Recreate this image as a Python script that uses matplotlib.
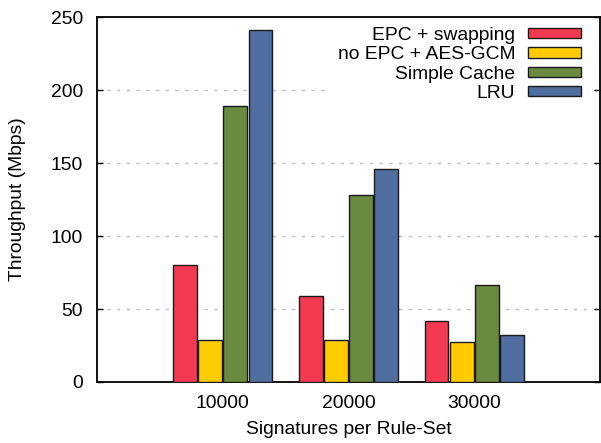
import matplotlib
matplotlib.use("Agg")
import matplotlib.pyplot as plt
import numpy as np
from matplotlib.patches import Patch

plt.rcParams['font.family'] = ['Liberation Sans', 'DejaVu Sans']

categories = ["10000", "20000", "30000"]
series_names = ["EPC + swapping", "no EPC + AES-GCM", "Simple Cache", "LRU"]
epc_swapping = [80, 59, 42]
no_epc_aes = [29, 28.5, 27.5]
simple_cache = [189, 128, 66.5]
lru = [241, 146, 32]
series_values = [epc_swapping, no_epc_aes, simple_cache, lru]
colors = ["#F33A50", "#FFCC00", "#6A8A40", "#506EA0"]
yticks = [0, 50, 100, 150, 200, 250]

FS = 13.9

fig = plt.figure(figsize=(6.01, 4.43), dpi=100)
ax = fig.add_axes([97/601, 61/443, 503/601, 365/443])

x = np.arange(len(categories))
slot = 0.2
width = 0.19
for i, (vals, col) in enumerate(zip(series_values, colors)):
    ax.bar(x + (i - 1.5) * slot, vals, width=width, color=col,
           edgecolor="#1a1a1a", linewidth=1.0, zorder=3)

ax.set_xlim(-1, 3)
ax.set_ylim(0, 250)
ax.set_xticks(x)
ax.set_xticklabels(categories, fontsize=FS)
ax.set_yticks(yticks)
ax.set_yticklabels([str(v) for v in yticks], fontsize=FS)
ax.tick_params(axis='x', length=0, pad=9)
ax.tick_params(axis='y', direction='in', length=4, width=1, right=True, pad=10)
for s in ax.spines.values():
    s.set_linewidth(1.3)

for v in yticks[1:-1]:
    ax.axhline(v, color="#bdbdbd", linewidth=1.0, linestyle=(0, (2.5, 4.5)), zorder=1)

ax.set_xlabel("Signatures per Rule-Set", fontsize=FS, labelpad=7)
ax.set_ylabel("Throughput (Mbps)", fontsize=FS, labelpad=18)

bp = 0.4
bp_px = bp * FS * 100 / 72
handles = [Patch(facecolor=c, edgecolor="#1a1a1a", linewidth=1.0) for c in colors]
leg = ax.legend(handles, series_names, loc="upper right", fontsize=FS,
                markerfirst=False, frameon=True, fancybox=False,
                framealpha=1.0, edgecolor="white", handlelength=2.75,
                handleheight=0.45, labelspacing=0.12, handletextpad=0.65,
                borderaxespad=0.0, borderpad=bp,
                bbox_to_anchor=(1 - (19 - bp_px)/503, 1 - (10 - bp_px)/365))
leg.set_zorder(5)
for t in leg.get_texts():
    t.set_ha("right")
leg._legend_box.align = "right"

fig.savefig("out.png", dpi=100)
